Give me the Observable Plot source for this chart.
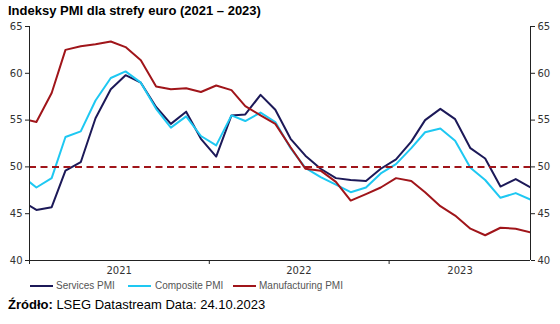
<!DOCTYPE html>
<html><head><meta charset="utf-8">
<script src="https://cdn.jsdelivr.net/npm/d3@7"></script>
<script src="https://cdn.jsdelivr.net/npm/@observablehq/plot@0.6"></script>
<style>
body{margin:0;background:#fff;width:560px;height:324px;position:relative;overflow:hidden;font-family:"Liberation Sans",Arial,sans-serif}
#title{position:absolute;left:8px;top:3px;font-weight:bold;font-size:13px;color:#000;white-space:nowrap}
#chart{position:absolute;left:0;top:18px}
#legend{position:absolute;top:279px;left:0;width:560px;height:14px;font-size:10px;color:#555}
.li{position:absolute;top:0;white-space:nowrap;line-height:14px}
.sw{position:absolute;top:6px;height:2px}
#source{position:absolute;left:8px;top:297px;font-size:13px;color:#000;white-space:nowrap}
</style>
</head><body>
<div id="title">Indeksy PMI dla strefy euro (2021 – 2023)</div>
<div id="chart"></div>
<div id="legend"></div>
<div id="source"><b>Źródło:</b> LSEG Datastream Data: 24.10.2023</div>
<script>
const months = ["2020-12-15",
 "2021-01-15","2021-02-15","2021-03-15","2021-04-15","2021-05-15","2021-06-15","2021-07-15","2021-08-15","2021-09-15","2021-10-15","2021-11-15","2021-12-15",
 "2022-01-15","2022-02-15","2022-03-15","2022-04-15","2022-05-15","2022-06-15","2022-07-15","2022-08-15","2022-09-15","2022-10-15","2022-11-15","2022-12-15",
 "2023-01-15","2023-02-15","2023-03-15","2023-04-15","2023-05-15","2023-06-15","2023-07-15","2023-08-15","2023-09-15","2023-10-15"];
const services = [46.4, 45.4,45.7,49.6,50.5,55.2,58.3,59.8,59.0,56.4,54.6,55.9,53.0, 51.1,55.5,55.6,57.7,56.1,53.0,51.2,49.8,48.8,48.6,48.5,49.8, 50.8,52.7,55.0,56.2,55.1,52.0,50.9,47.9,48.7,47.8];
const composite = [49.1, 47.8,48.8,53.2,53.8,57.1,59.5,60.2,59.0,56.2,54.2,55.4,53.3, 52.3,55.5,54.9,55.8,54.8,52.0,49.9,48.9,48.1,47.3,47.8,49.3, 50.3,52.0,53.7,54.1,52.8,49.9,48.6,46.7,47.2,46.5];
const manufacturing = [55.2, 54.8,57.9,62.5,62.9,63.1,63.4,62.8,61.4,58.6,58.3,58.4,58.0, 58.7,58.2,56.5,55.5,54.6,52.1,49.8,49.6,48.4,46.4,47.1,47.8, 48.8,48.5,47.3,45.8,44.8,43.4,42.7,43.5,43.4,43.0];
const seriesNames = ["Services PMI","Composite PMI","Manufacturing PMI"];
const seriesColors = ["#1c1958","#1ec8f2","#a0151a"];
const yTicks = [40,45,50,55,60,65];
const yearTicks = ["2021-01-01","2022-01-01","2023-01-01"];
const yearLabels = ["2021","2022","2023"];
const yearLabelPos = ["2021-07-02","2022-07-02","2023-05-25"];
const xDomain = ["2021-01-01","2023-10-15"];
const threshold = 50;

const parse = s => new Date(s + "T00:00:00Z");
const allSeries = [services, composite, manufacturing];
const rows = [];
allSeries.forEach((vals, si) => vals.forEach((v, i) => rows.push({date: parse(months[i]), value: v, series: seriesNames[si]})));

const d0 = parse(xDomain[0]), d1 = parse(xDomain[1]);
const chart = Plot.plot({
  width: 560, height: 265,
  marginTop: 8, marginBottom: 23, marginLeft: 29, marginRight: 30,
  style: {fontFamily: "'DejaVu Sans', Verdana, sans-serif", fontSize: "10px", color: "#333", background: "#fff"},
  x: {type: "utc", domain: [d0, d1]},
  y: {domain: [40, 65]},
  color: {domain: seriesNames, range: seriesColors},
  marks: [
    ...seriesNames.map(name => Plot.line(rows.filter(r => r.series === name), {x: "date", y: "value", stroke: "series", strokeWidth: 2, clip: true})),
    Plot.ruleY([threshold], {stroke: "#a0151a", strokeWidth: 2, strokeDasharray: "7,4.5"}),
    Plot.ruleX([d0, d1], {stroke: "#222", strokeWidth: 1}),
    Plot.ruleY([40], {stroke: "#222", strokeWidth: 1}),
    Plot.axisY({anchor: "left", ticks: yTicks, tickSize: 4, tickPadding: 3, label: null, stroke: "#222"}),
    Plot.axisY({anchor: "right", ticks: yTicks, tickSize: 4, tickPadding: 3, label: null, stroke: "#222"}),
    Plot.axisX({ticks: yearTicks.map(parse), tickSize: 4, tickFormat: () => "", label: null, stroke: "#222"}),
    Plot.axisX({ticks: yearLabelPos.map(parse), tickSize: 0, tickPadding: 6, tickFormat: (d, i) => yearLabels[i], label: null})
  ]
});
document.getElementById("chart").appendChild(chart);

const legend = document.getElementById("legend");
const legPos = [[30, 56], [128, 155], [233, 259]];
seriesNames.forEach((name, i) => {
  const sw = document.createElement("div");
  sw.className = "sw";
  sw.style.left = legPos[i][0] + "px";
  sw.style.width = "23px";
  sw.style.background = seriesColors[i];
  legend.appendChild(sw);
  const t = document.createElement("div");
  t.className = "li";
  t.style.left = legPos[i][1] + "px";
  t.textContent = name;
  legend.appendChild(t);
});
</script>
</body></html>
